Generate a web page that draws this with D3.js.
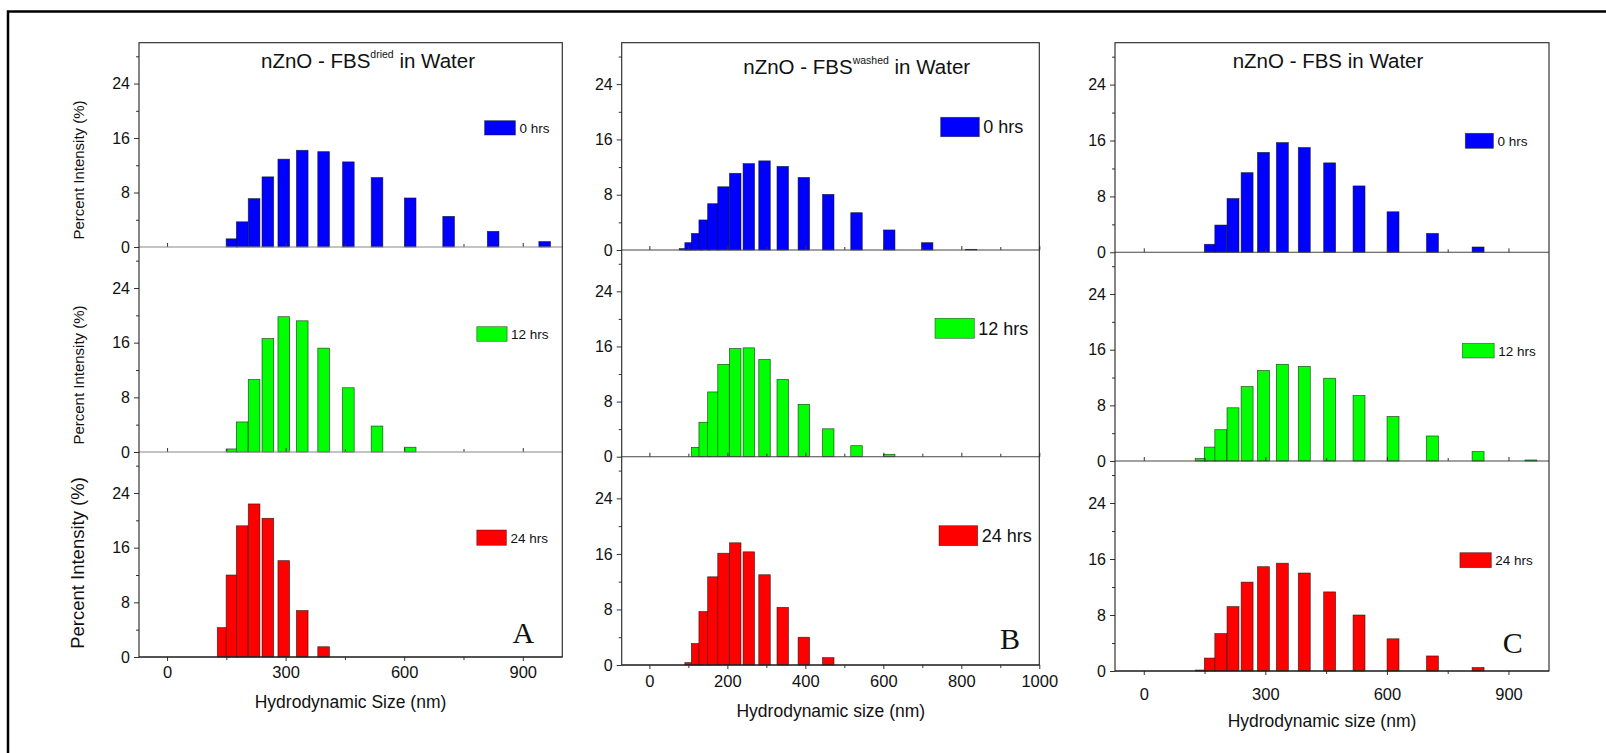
<!DOCTYPE html>
<html><head><meta charset="utf-8">
<script src="https://cdn.jsdelivr.net/npm/d3@7"></script>
<style>
body{margin:0;background:#fff}
svg{display:block}
text{font-family:Arial,"Liberation Sans",sans-serif;fill:#111}
text.letter{font-family:"Liberation Serif","Times New Roman","DejaVu Serif",serif}
</style>
</head><body><svg id="chart" width="1606" height="753"></svg>
<script>
// ---- data ----
const sizeBins = [91.28,105.7,122.4,141.8,164.2,190.1,220.2,255.0,295.3,342.0,396.1,458.7,531.2,615.1,712.4,825.0,955.4];
const seriesNames = ["0 hrs","12 hrs","24 hrs"];
const seriesColors = ["#0000ff","#00ff00","#ff0000"];
const titleMain = ["nZnO - FBS","nZnO - FBS","nZnO - FBS"];
const titleSup = ["dried","washed",""];
const titleEnd = [" in Water"," in Water"," in Water"];
const xLabels = ["Hydrodynamic Size (nm)","Hydrodynamic size (nm)","Hydrodynamic size (nm)"];
const yLabel = "Percent Intensity (%)";
const panelLetters = ["A","B","C"];
const driedHr0  = [0,0,0,0,1.2,3.7,7.1,10.3,12.9,14.2,14.0,12.5,10.2,7.2,4.5,2.3,0.8];
const driedHr12 = [0,0,0,0,0.45,4.4,10.6,16.6,19.8,19.2,15.2,9.4,3.8,0.7,0,0,0];
const driedHr24 = [0,0,0,4.3,12.0,19.2,22.4,20.3,14.1,6.8,1.5,0,0,0,0,0,0];
const washedHr0  = [0.2,1.06,2.4,4.35,6.7,9.15,11.1,12.5,12.9,12.1,10.5,8.05,5.4,2.9,1.06,0.1,0];
const washedHr12 = [0,0,1.35,5.0,9.4,13.4,15.7,15.8,14.1,11.2,7.6,4.05,1.6,0.35,0,0,0];
const washedHr24 = [0,0.34,3.1,7.7,12.7,16.1,17.6,16.3,13.0,8.3,4.0,1.06,0,0,0,0,0];
const fbsHr0  = [0,0,0,0,1.15,3.9,7.7,11.4,14.3,15.7,15.0,12.8,9.5,5.8,2.7,0.76,0];
const fbsHr12 = [0,0,0,0.35,2.0,4.5,7.65,10.7,13.0,13.9,13.6,11.9,9.4,6.4,3.6,1.35,0.15];
const fbsHr24 = [0,0,0,0.14,1.85,5.35,9.2,12.7,14.9,15.4,14.0,11.3,8.0,4.6,2.15,0.5,0];
const xMajorAC = [0,300,600,900];
const xMinorAC = [150,450,750];
const xMajorB = [0,200,400,600,800,1000];
const xMinorB = [100,300,500,700,900];
const yMajor = [0,8,16,24];
const yMinor = [4,12,20,28];
const xDomain = [-71,1000];
const yDomain = [0,30];

const panelSeries = [
  [driedHr0, driedHr12, driedHr24],
  [washedHr0, washedHr12, washedHr24],
  [fbsHr0, fbsHr12, fbsHr24]
];
const panelTicks = [[xMajorAC,xMinorAC],[xMajorB,xMinorB],[xMajorAC,xMinorAC]];

// ---- layout (positions / styles) ----
const barWidthNm = 29.5;
const yLabStyle = [{cy:170, size:15}, {cy:375, size:15}, {cy:563, size:18.5}];
const layout = [
  {left:139, right:562.3, top:42.7, bottoms:[247,452,657], innerAxisColor:"#888",
   titleX:368, titleY:68.3, titleSize:20.5, supDy:-10,
   legend:[[484.6,120.7,30.8,14.3],[476.8,326.7,30.3,14.6],[476.8,530,29.6,15.3]], legendFont:13.5,
   xLabX:350.5, xLabY:708.3, tickLabY:678.3, letterX:512.5, letterY:643.3, yLab:true},
  {left:621.7, right:1039.3, top:42.7, bottoms:[250,456.7,665], innerAxisColor:"#444",
   titleX:856.7, titleY:74, titleSize:20.5, supDy:-10,
   legend:[[940.7,117.3,38.6,19.4],[935,318.3,39.3,20],[939,525.7,38.7,20]], legendFont:18,
   xLabX:830.8, xLabY:717, tickLabY:686.7, letterX:1000, letterY:649.3, yLab:false},
  {left:1115, right:1549, top:42.7, bottoms:[252.3,461,671], innerAxisColor:"#444",
   titleX:1328, titleY:68.3, titleSize:20.5, supDy:-10,
   legend:[[1465.3,133.3,28.1,15],[1462.4,343.3,31.8,14.7],[1459.9,552.7,31.4,15]], legendFont:13.5,
   xLabX:1322, xLabY:727.3, tickLabY:700, letterX:1502.7, letterY:652.7, yLab:false}
];

const svg = d3.select("#chart");
svg.append("rect").attr("x",0).attr("y",0).attr("width",1606).attr("height",753).attr("fill","#fff");
// outer border (right and bottom fall outside the picture)
svg.append("rect").attr("x",8).attr("y",11.5).attr("width",1640).attr("height",800)
  .attr("fill","none").attr("stroke","#000").attr("stroke-width",2.5);

layout.forEach((L, p) => {
  const g = svg.append("g");
  const x = d3.scaleLinear().domain(xDomain).range([L.left, L.right]);
  const [majX, minX] = panelTicks[p];

  for (let s = 0; s < 3; s++) {
    const yTop = s === 0 ? L.top : L.bottoms[s-1];
    const yBot = L.bottoms[s];
    const y = d3.scaleLinear().domain(yDomain).range([yBot, yTop]);
    const sg = g.append("g");

    // bars
    const vals = panelSeries[p][s];
    const data = sizeBins.map((b,i)=>({b, v: vals[i]})).filter(d=>d.v>0);
    sg.selectAll("rect.bar").data(data).join("rect").attr("class","bar")
      .attr("x", d=>x(d.b - barWidthNm/2))
      .attr("width", d=>x(d.b + barWidthNm/2) - x(d.b - barWidthNm/2))
      .attr("y", d=>y(d.v))
      .attr("height", d=>y(0)-y(d.v))
      .attr("fill", seriesColors[s])
      .attr("stroke", "#111").attr("stroke-opacity",0.75).attr("stroke-width",0.7);

    // left axis
    const yAx = d3.axisLeft(y).tickValues(yMajor).tickSize(5).tickPadding(4).tickFormat(d3.format("d"));
    const ya = sg.append("g").attr("transform",`translate(${L.left},0)`).call(yAx);
    ya.select(".domain").remove();
    ya.selectAll("line").attr("stroke","#333");
    ya.selectAll("text").attr("font-size",16);
    const yAxMin = d3.axisLeft(y).tickValues(yMinor).tickSize(3).tickFormat("");
    const ym = sg.append("g").attr("transform",`translate(${L.left},0)`).call(yAxMin);
    ym.select(".domain").remove();
    ym.selectAll("line").attr("stroke","#333");

    // x axis line + ticks
    const last = s === 2;
    const xAx = (last ? d3.axisBottom(x) : d3.axisTop(x)).tickValues(majX).tickSize(4).tickPadding(last ? 4 : 0)
      .tickFormat(last ? d3.format("d") : "");
    const xa = sg.append("g").attr("transform",`translate(0,${yBot})`).call(xAx);
    xa.select(".domain").remove();
    xa.selectAll("line").attr("stroke","#333");
    xa.selectAll("text").attr("font-size",16.5).attr("dy",null).attr("y", L.tickLabY - yBot);
    const xAxMin = (last ? d3.axisBottom(x) : d3.axisTop(x)).tickValues(minX).tickSize(3).tickFormat("");
    const xm = sg.append("g").attr("transform",`translate(0,${yBot})`).call(xAxMin);
    xm.select(".domain").remove();
    xm.selectAll("line").attr("stroke","#333");
    sg.append("line").attr("x1",L.left).attr("x2",L.right).attr("y1",yBot).attr("y2",yBot)
      .attr("stroke", last ? "#222" : L.innerAxisColor).attr("stroke-width",1.1);

    // legend
    const lg = L.legend[s];
    sg.append("rect").attr("x",lg[0]).attr("y",lg[1]).attr("width",lg[2]).attr("height",lg[3])
      .attr("fill",seriesColors[s]).attr("stroke","#111").attr("stroke-opacity",0.6).attr("stroke-width",0.7);
    sg.append("text").attr("x",lg[0]+lg[2]+4).attr("y",lg[1]+lg[3]/2+L.legendFont*0.36)
      .attr("font-size",L.legendFont).text(seriesNames[s]);

    // y label
    if (L.yLab) {
      const ys = yLabStyle[s];
      sg.append("text").attr("transform",`translate(83.5,${ys.cy}) rotate(-90)`)
        .attr("text-anchor","middle").attr("font-size",ys.size).text(yLabel);
    }
  }

  // frame
  g.append("rect").attr("x",L.left).attr("y",L.top).attr("width",L.right-L.left)
    .attr("height",L.bottoms[2]-L.top).attr("fill","none").attr("stroke","#222").attr("stroke-width",1.1);

  // title
  const t = g.append("text").attr("x",L.titleX).attr("y",L.titleY).attr("text-anchor","middle")
    .attr("font-size",L.titleSize);
  t.append("tspan").text(titleMain[p]);
  if (titleSup[p]) {
    t.append("tspan").attr("font-size",10.5).attr("dy",L.supDy).text(titleSup[p]);
    t.append("tspan").attr("dy",-L.supDy).text(titleEnd[p]);
  } else {
    t.append("tspan").text(titleEnd[p]);
  }

  // x label
  g.append("text").attr("x",L.xLabX).attr("y",L.xLabY).attr("text-anchor","middle")
    .attr("font-size",17.5).text(xLabels[p]);

  // panel letter
  g.append("text").attr("class","letter").attr("x",L.letterX).attr("y",L.letterY)
    .attr("font-size",30).text(panelLetters[p]);
});
</script>
</body></html>
